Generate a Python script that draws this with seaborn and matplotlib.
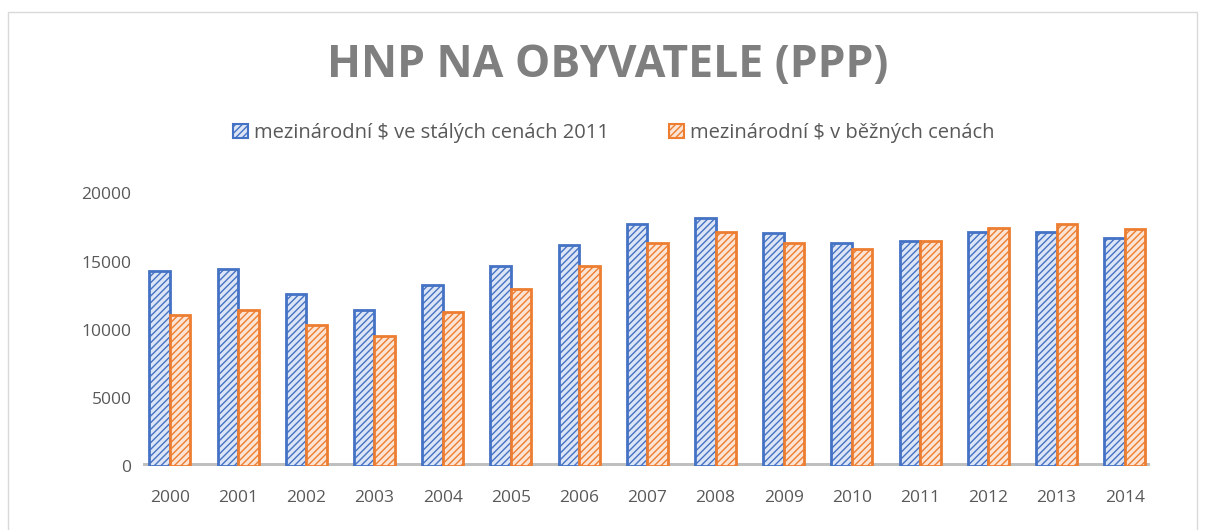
import numpy as np
import pandas as pd
import matplotlib
matplotlib.use('Agg')
import matplotlib.pyplot as plt
import seaborn as sns
from matplotlib.patches import Rectangle

# data
years = ['2000', '2001', '2002', '2003', '2004', '2005', '2006', '2007',
         '2008', '2009', '2010', '2011', '2012', '2013', '2014']
const_2011 = [14300, 14500, 12650, 11470, 13300, 14700, 16200, 17750,
              18200, 17100, 16400, 16550, 17200, 17200, 16700]
current = [11100, 11470, 10360, 9550, 11300, 13000, 14650, 16400,
           17200, 16350, 15900, 16550, 17500, 17750, 17400]
series_names = ['mezinárodní $ ve stálých cenách 2011', 'mezinárodní $ v běžných cenách']

df = pd.DataFrame({
    'rok': years * 2,
    'hodnota': const_2011 + current,
    'rada': [series_names[0]] * len(years) + [series_names[1]] * len(years),
})

sns.set_theme(style='white')
plt.rcParams['font.family'] = ['Open Sans', 'DejaVu Sans']
plt.rcParams['hatch.linewidth'] = 1.0

edge_cols = ['#4472C4', '#ED7D31']
fill_cols = ['#DCE5F5', '#FCE4D4']

fig = plt.figure(figsize=(12.08, 5.3), dpi=100)
ax = fig.add_axes([0.118, 0.12, 0.834, 0.515])

sns.barplot(data=df, x='rok', y='hodnota', hue='rada', palette=fill_cols,
            width=0.6, gap=0, legend=False, ax=ax, saturation=1)

n = len(years)
for i, bar in enumerate(ax.patches[:2 * n]):
    s = i // n
    bar.set_facecolor(fill_cols[s])
    bar.set_edgecolor(edge_cols[s])
    bar.set_hatch('/////')
    bar.set_linewidth(2)

# grey floor
ax.axhline(0, color='#BFBFBF', lw=5, zorder=0)

ax.set_ylim(0, 20000)
ax.set_yticks([0, 5000, 10000, 15000, 20000])
ax.set_xlim(-0.4, n - 0.63)
ax.set_xlabel('')
ax.set_ylabel('')
for sp in ax.spines.values():
    sp.set_visible(False)
ax.tick_params(axis='both', colors='#595959', labelsize=12.5, length=0)
ax.tick_params(axis='x', pad=17)
ax.tick_params(axis='y', pad=8)

handles = [Rectangle((0, 0), 1, 1, facecolor=fill_cols[k], edgecolor=edge_cols[k],
                     hatch='/////', lw=1.5) for k in range(2)]
fig.legend(handles, series_names, loc='center', bbox_to_anchor=(0.508, 0.749),
           ncol=2, frameon=False, fontsize=14.5, labelcolor='#595959',
           handlelength=0.75, handleheight=0.75, handletextpad=0.3, columnspacing=3.0)

fig.text(0.503, 0.876, 'HNP NA OBYVATELE (PPP)', ha='center', va='center',
         fontsize=32, fontweight='bold', color='#7F7F7F')

# chart border
fig.patches.append(Rectangle((0.007, -0.1), 0.984, 1.077, transform=fig.transFigure,
                             fill=False, edgecolor='#D9D9D9', lw=1))

fig.savefig('out.png', dpi=100)
